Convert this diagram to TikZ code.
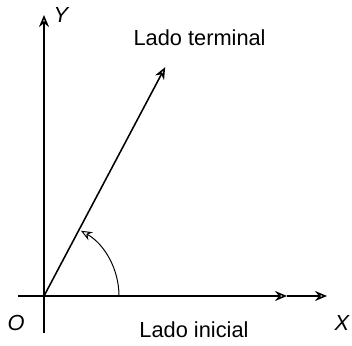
\documentclass[tikz,border=0pt]{standalone}
\usepackage{fontspec}
\setmainfont{Liberation Sans}
\usetikzlibrary{positioning,arrows.meta,calc}

\begin{document}
\begin{tikzpicture}[
  axis/.style={line width=1.1pt,-{Stealth[open,length=3mm,width=2.5mm]}},
  ray/.style={line width=1.1pt,-{Stealth[open,length=3mm,width=2.5mm]}},
  angarr/.style={line width=0.7pt,-{Stealth[open,length=2.8mm,width=2.3mm]}},
  lbl/.style={font=\fontsize{15.5}{18}\selectfont,inner sep=0pt},
  axlbl/.style={font=\fontsize{15.5}{18}\selectfont\itshape,inner sep=0pt},
]
\useasboundingbox (-1.1,-1.225) rectangle (7.7,7.4);

% Axes
\coordinate (O) at (0,0);
\coordinate (xstart) at (-0.65,0);
\coordinate (xmid) at (6.075,0);
\coordinate (xend) at (7.075,0);
\coordinate (ystart) at (0,-0.925);
\coordinate (yend) at (0,7.025);
\draw[axis] (xstart) -- (xmid);
\draw[axis] (xmid) -- (xend);
\draw[axis] (ystart) -- (yend);

% Terminal side
\coordinate (tend) at (62.1:6.475);
\draw[ray] (O) -- (tend);

% Angle
\coordinate (a0) at (1.875,0);
\draw[angarr] (a0) arc[start angle=0,end angle=60.5,radius=1.875];

% Labels
\node[axlbl] (ylab) at (0.425,7.025) {Y};
\node[axlbl] (xlab) at (7.45,-0.675) {X};
\node[axlbl] (olab) at (-0.7,-0.675) {O};
\node[lbl] (term) at (3.89,6.45) {Lado terminal};
\node[lbl] (init) at (3.75,-0.85) {Lado inicial};

\end{tikzpicture}
\end{document}
